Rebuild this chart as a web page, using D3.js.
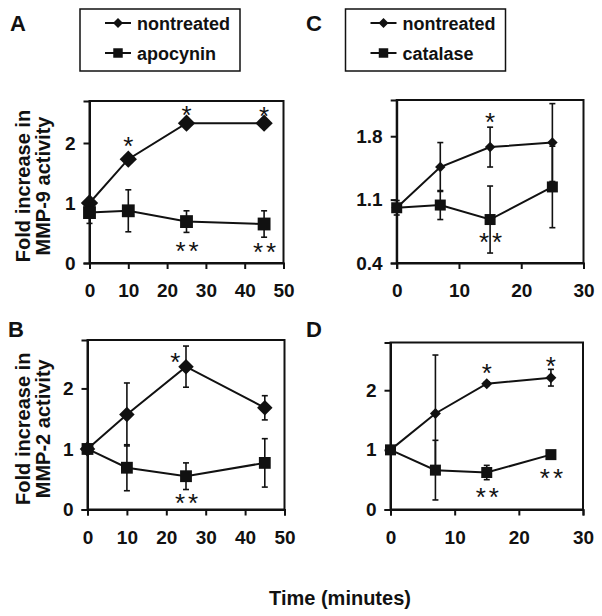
<!DOCTYPE html>
<html>
<head>
<meta charset="utf-8">
<script src="https://cdn.jsdelivr.net/npm/d3@7"></script>
<style>
  body { margin: 0; background: #fff; }
  svg text { font-family: Arial, "Liberation Sans", Helvetica, sans-serif; fill: #111; }
</style>
</head>
<body>
<svg id="chart" width="602" height="616"></svg>
<script>
// ---------------- data ----------------
const timeAB = [0, 10, 25, 45];
const timeCD = [0, 7, 15, 25];

const A_nontreated = [1.0, 1.73, 2.33, 2.33];
const A_nontreatedErr = [0, 0, 0, 0];
const A_apocynin = [0.84, 0.87, 0.69, 0.65];
const A_apocyninErr = [0.18, 0.35, 0.18, 0.22];

const B_nontreated = [1.0, 1.57, 2.36, 1.68];
const B_nontreatedErr = [0, 0.52, 0.34, 0.2];
const B_apocynin = [1.0, 0.69, 0.55, 0.77];
const B_apocyninErr = [0, 0.38, 0.22, 0.4];

const C_nontreated = [1.01, 1.46, 1.68, 1.73];
const C_nontreatedErr = [0, 0.27, 0.22, 0.43];
const C_catalase = [1.01, 1.04, 0.88, 1.24];
const C_catalaseErr = [0.08, 0.16, 0.37, 0.45];

const D_nontreated = [1.0, 1.61, 2.11, 2.21];
const D_nontreatedErr = [0, 0.98, 0.03, 0.14];
const D_catalase = [1.0, 0.66, 0.62, 0.92];
const D_catalaseErr = [0, 0.5, 0.12, 0];

const xTicksAB = [0, 10, 20, 30, 40, 50];
const xTicksCD = [0, 10, 20, 30];
const yTicksAB = [0, 1, 2];
const yTicksC = [0.4, 1.1, 1.8];
const yTicksD = [0, 1, 2];

// significance marks: [time, value, label]
const A_marks = [[10, 2.04, "*"], [25, 2.56, "*"], [45, 2.54, "*"], [25, 0.29, "**"], [45, 0.27, "**"]];
const B_marks = [[22.3, 2.53, "*"], [25, 0.2, "**"]];
const C_marks = [[15, 2.02, "*"], [15, 0.69, "**"]];
const D_marks = [[15, 2.37, "*"], [25, 2.5, "*"], [15, 0.3, "**"], [25, 0.62, "**"]];

const legendAB = ["nontreated", "apocynin"];
const legendCD = ["nontreated", "catalase"];
const yTitleA = ["Fold increase in", "MMP-9 activity"];
const yTitleB = ["Fold increase in", "MMP-2 activity"];
const xTitle = "Time (minutes)";

// ---------------- drawing ----------------
const svg = d3.select("#chart");

function marker(sel, shape, size) {
  sel.attr("d", d3.symbol().type(d3.symbolSquare).size(size)())
     .attr("transform", d => `translate(${d.px},${d.py})` + (shape === "diamond" ? " rotate(45)" : ""));
}

function drawPanel(cfg) {
  const x = d3.scaleLinear().domain(cfg.xDomain).range(cfg.xRange);
  const y = d3.scaleLinear().domain(cfg.yDomain).range(cfg.yRange);
  const g = svg.append("g");

  g.append("rect")
    .attr("x", cfg.xRange[0]).attr("y", cfg.yRange[1])
    .attr("width", cfg.xRange[1] - cfg.xRange[0])
    .attr("height", cfg.yRange[0] - cfg.yRange[1])
    .attr("fill", "none").attr("stroke", "#111").attr("stroke-width", 2);

  const xAxis = g.append("g")
    .attr("transform", `translate(0,${cfg.yRange[0]})`)
    .call(d3.axisBottom(x).tickValues(cfg.xTicks).tickSize(6).tickPadding(15).tickFormat(d3.format("d")));
  const yAxis = g.append("g")
    .attr("transform", `translate(${cfg.xRange[0]},0)`)
    .call(d3.axisLeft(y).tickValues(cfg.yTicks).tickSize(6).tickPadding(8).tickFormat(cfg.yFormat));
  [xAxis, yAxis].forEach(a => {
    a.select(".domain").attr("stroke", "#111").attr("stroke-width", 2);
    a.selectAll(".tick line").attr("stroke", "#111").attr("stroke-width", 2);
    a.selectAll(".tick text").attr("font-size", 19).attr("font-weight", "bold")
      .attr("font-family", 'Arial, "Liberation Sans", Helvetica, sans-serif').attr("fill", "#111");
  });

  const line = d3.line().x(d => d.px).y(d => d.py);

  cfg.series.forEach(s => {
    const pts = cfg.time.map((t, i) => ({ px: x(t), py: y(s.values[i]), v: s.values[i], e: s.err[i] }));
    const eb = g.append("g");
    pts.filter(p => p.e > 0).forEach(p => {
      const top = y(p.v + p.e), bot = y(p.v - p.e);
      eb.append("line").attr("x1", p.px).attr("x2", p.px).attr("y1", top).attr("y2", bot)
        .attr("stroke", "#111").attr("stroke-width", 1.6);
      [top, bot].forEach(yy => eb.append("line")
        .attr("x1", p.px - 3).attr("x2", p.px + 3).attr("y1", yy).attr("y2", yy)
        .attr("stroke", "#111").attr("stroke-width", 1.6));
    });
    g.append("path").datum(pts).attr("d", line)
      .attr("fill", "none").attr("stroke", "#111").attr("stroke-width", 2);
    g.selectAll(null).data(pts).enter().append("path")
      .call(marker, s.shape, s.size).attr("fill", "#111");
  });

  cfg.marks.forEach(m => {
    const fs = 26;
    g.append("text")
      .attr("x", x(m[0]) + (m[2].length > 1 ? 2 : 0)).attr("y", y(m[1]) + fs * 0.55)
      .attr("text-anchor", "middle").attr("font-size", fs)
      .attr("letter-spacing", m[2].length > 1 ? 3 : 0)
      .text(m[2]);
  });

  svg.append("text").attr("x", cfg.label[1]).attr("y", cfg.label[2])
    .attr("font-size", 22).attr("font-weight", "bold").text(cfg.label[0]);

  if (cfg.yTitle) {
    const cy = (cfg.yRange[0] + cfg.yRange[1]) / 2 + 4;
    cfg.yTitle.forEach((t, i) => {
      svg.append("text")
        .attr("transform", `translate(${30 + i * 20},${cy}) rotate(-90)`)
        .attr("text-anchor", "middle").attr("font-size", 20).attr("font-weight", "bold")
        .text(t);
    });
  }
}

function drawLegend(x0, y0, w, h, labels) {
  const g = svg.append("g");
  g.append("rect").attr("x", x0).attr("y", y0).attr("width", w).attr("height", h)
    .attr("fill", "none").attr("stroke", "#111").attr("stroke-width", 1.5);
  const shapes = ["diamond", "square"];
  const sizes = [50, 90];
  labels.forEach((lab, i) => {
    const yy = y0 + 14 + i * 30;
    g.append("line").attr("x1", x0 + 25).attr("x2", x0 + 51).attr("y1", yy).attr("y2", yy)
      .attr("stroke", "#111").attr("stroke-width", 2);
    g.append("path").datum({ px: x0 + 38, py: yy }).call(marker, shapes[i], sizes[i]).attr("fill", "#111");
    g.append("text").attr("x", x0 + 57).attr("y", yy + 6.5)
      .attr("font-size", 18).attr("font-weight", "bold").text(lab);
  });
}

drawPanel({
  xDomain: [0, 50], xRange: [89.5, 283.5], yDomain: [0, 2.7], yRange: [263, 101],
  xTicks: xTicksAB, yTicks: yTicksAB, yFormat: d3.format("d"), time: timeAB,
  series: [
    { values: A_nontreated, err: A_nontreatedErr, shape: "diamond", size: 150 },
    { values: A_apocynin, err: A_apocyninErr, shape: "square", size: 165 }
  ],
  marks: A_marks, label: ["A", 10, 31], yTitle: yTitleA
});
drawPanel({
  xDomain: [0, 50], xRange: [87.5, 284.5], yDomain: [0, 2.8], yRange: [509.5, 340],
  xTicks: xTicksAB, yTicks: yTicksAB, yFormat: d3.format("d"), time: timeAB,
  series: [
    { values: B_nontreated, err: B_nontreatedErr, shape: "diamond", size: 120 },
    { values: B_apocynin, err: B_apocyninErr, shape: "square", size: 140 }
  ],
  marks: B_marks, label: ["B", 8, 337], yTitle: yTitleB
});
drawPanel({
  xDomain: [0, 30], xRange: [396.7, 583.5], yDomain: [0.4, 2.2], yRange: [263, 100],
  xTicks: xTicksCD, yTicks: yTicksC, yFormat: d3.format(".1f"), time: timeCD,
  series: [
    { values: C_nontreated, err: C_nontreatedErr, shape: "diamond", size: 55 },
    { values: C_catalase, err: C_catalaseErr, shape: "square", size: 121 }
  ],
  marks: C_marks, label: ["C", 306, 31]
});
drawPanel({
  xDomain: [0, 30], xRange: [390.5, 583], yDomain: [0, 2.8], yRange: [509.5, 342.5],
  xTicks: xTicksCD, yTicks: yTicksD, yFormat: d3.format("d"), time: timeCD,
  series: [
    { values: D_nontreated, err: D_nontreatedErr, shape: "diamond", size: 60 },
    { values: D_catalase, err: D_catalaseErr, shape: "square", size: 121 }
  ],
  marks: D_marks, label: ["D", 306, 337]
});

drawLegend(80, 9, 160, 62, legendAB);
drawLegend(345.5, 9, 160, 62, legendCD);

svg.append("text").attr("x", 340).attr("y", 605).attr("text-anchor", "middle")
  .attr("font-size", 20).attr("font-weight", "bold").text(xTitle);
</script>
</body>
</html>
